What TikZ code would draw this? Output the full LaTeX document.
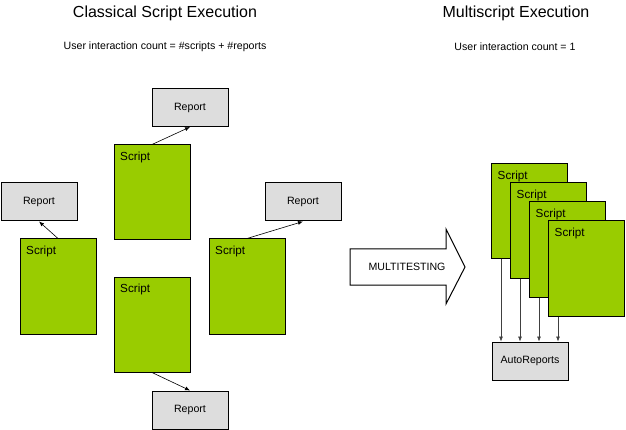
\documentclass[tikz,border=0pt]{standalone}
\usepackage{fontspec}
\setmainfont{Liberation Sans}
\usepackage{tikz}
\usepackage{xcolor}
\usetikzlibrary{arrows.meta}
\definecolor{scriptgreen}{HTML}{99CC00}
\definecolor{reportgray}{HTML}{DDDDDD}
\tikzset{
    script-box/.style = {draw=black, fill=scriptgreen, line width=1pt, rectangle, minimum width=76pt, minimum height=95pt, inner sep=0pt},
    script-text/.style = {anchor=north west, inner sep=0pt, font=\fontsize{11.7}{13}\selectfont},
    report-box/.style = {draw=black, fill=reportgray, line width=1pt, rectangle, minimum width=76pt, minimum height=38pt, inner sep=0pt, font=\fontsize{10.6}{12}\selectfont},
    title-text/.style = {font=\fontsize{16}{18}\selectfont},
    count-text/.style = {font=\fontsize{10.6}{12}\selectfont},
    link/.style = {-{Latex[length=5pt,width=4pt]}, line width=0.6pt},
    auto-link/.style = {-{Latex[length=5pt,width=4pt]}, line width=0.6pt, draw=black!75},
}

\begin{document}
\begin{tikzpicture}[x=1pt, y=-1pt]
\useasboundingbox (0,0) rectangle (626,430);

% headings
\node[title-text] (title-classic) at (165,13) {Classical Script Execution};
\node[count-text] (count-classic) at (165,47) {User interaction count = \#scripts + \#reports};
\node[title-text] (title-multi) at (516,13) {Multiscript Execution};
\node[count-text] (count-multi) at (515,47) {User interaction count = 1};

% classical execution
\node[report-box] (report-top) at (190,107.5) {Report};
\node[script-box] (script-top) at (152,192.5) {};
\node[script-text] (script-top-text) at ([shift={(6.5,7.5)}]script-top.north west) {Script};

\node[report-box] (report-left) at (39,202) {Report};
\node[script-box] (script-left) at (58,286.5) {};
\node[script-text] (script-left-text) at ([shift={(6.5,7.5)}]script-left.north west) {Script};

\node[report-box] (report-right) at (303,202) {Report};
\node[script-box] (script-right) at (247,286.5) {};
\node[script-text] (script-right-text) at ([shift={(6.5,7.5)}]script-right.north west) {Script};

\node[script-box] (script-bottom) at (152,324.5) {};
\node[script-text] (script-bottom-text) at ([shift={(6.5,7.5)}]script-bottom.north west) {Script};
\node[report-box] (report-bottom) at (190,410) {Report};

\draw[link] (script-top.north) -- (report-top.south);
\draw[link] (script-left.north) -- (report-left.south);
\draw[link] (script-right.north) -- (report-right.south);
\draw[link] (script-bottom.south) -- (report-bottom.north);

% big arrow
\draw[fill=white, line width=1pt] (350,249) -- (446,249) -- (446,229) -- (465,267)
    -- (446,304) -- (446,285) -- (350,285) -- cycle;
\node[count-text] (multitesting) at (407,267) {MULTITESTING};

% multiscript execution
\node[script-box] (multi-one) at (529.5,211.5) {};
\node[script-text] (multi-one-text) at ([shift={(6.5,7.5)}]multi-one.north west) {Script};
\node[script-box] (multi-two) at (548.5,230.5) {};
\node[script-text] (multi-two-text) at ([shift={(6.5,7.5)}]multi-two.north west) {Script};
\node[script-box] (multi-three) at (567.5,249.5) {};
\node[script-text] (multi-three-text) at ([shift={(6.5,7.5)}]multi-three.north west) {Script};
\node[script-box] (multi-four) at (586.5,268.5) {};
\node[script-text] (multi-four-text) at ([shift={(6.5,7.5)}]multi-four.north west) {Script};

\node[report-box] (auto-reports) at (530,361) {AutoReports};

\draw[auto-link] ([xshift=10pt]multi-one.south west) -- ([xshift=10pt]multi-one.south west |- auto-reports.north);
\draw[auto-link] ([xshift=10pt]multi-two.south west) -- ([xshift=10pt]multi-two.south west |- auto-reports.north);
\draw[auto-link] ([xshift=10pt]multi-three.south west) -- ([xshift=10pt]multi-three.south west |- auto-reports.north);
\draw[auto-link] ([xshift=10pt]multi-four.south west) -- ([xshift=10pt]multi-four.south west |- auto-reports.north);
\end{tikzpicture}
\end{document}
